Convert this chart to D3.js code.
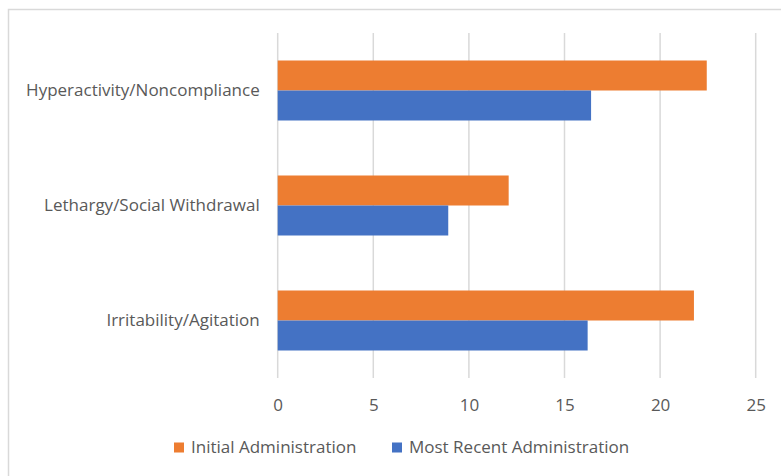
<!DOCTYPE html>
<html>
<head>
<meta charset="utf-8">
<script src="https://cdn.jsdelivr.net/npm/d3@7"></script>
<style>
  html, body { margin: 0; padding: 0; background: #fff; }
  svg { display: block; }
  text { font-family: "Open Sans", sans-serif; fill: #595959; }
</style>
</head>
<body>
<svg id="chart" width="781" height="476"></svg>
<script>
// Scale scores by subscale, first vs. latest administration
const categories = ["Hyperactivity/Noncompliance", "Lethargy/Social Withdrawal", "Irritability/Agitation"];
const seriesNames = ["Initial Administration", "Most Recent Administration"];
const initialValues = [22.44, 12.08, 21.77];
const recentValues = [16.39, 8.92, 16.21];
const tickValues = [0, 5, 10, 15, 20, 25];
const colors = ["#ED7D31", "#4472C4"];
const fontSize = "17px";

const svg = d3.select("#chart");

// outer chart frame (extends past right/bottom edges)
svg.append("rect")
  .attr("x", 8.5).attr("y", 9.5)
  .attr("width", 800).attr("height", 500)
  .attr("fill", "none").attr("stroke", "#D9D9D9").attr("stroke-width", 1.5);

const plot = { left: 277.7, right: 755.7, top: 33, bottom: 378 };

const x = d3.scaleLinear().domain([0, 25]).range([plot.left, plot.right]);
const y = d3.scaleBand().domain(categories).range([plot.top, plot.bottom]).paddingInner(0).paddingOuter(0);
const inner = d3.scaleBand().domain(seriesNames).range([0, 60]);
const groupOffset = (y.bandwidth() - 60) / 2;

// vertical gridlines
svg.append("g")
  .selectAll("line").data(tickValues).join("line")
  .attr("x1", d => x(d)).attr("x2", d => x(d))
  .attr("y1", plot.top).attr("y2", plot.bottom)
  .attr("stroke", "#D9D9D9").attr("stroke-width", 1.5);

// bars
const rows = categories.map((c, i) => ({ cat: c, vals: [initialValues[i], recentValues[i]] }));
const g = svg.append("g");
rows.forEach(r => {
  r.vals.forEach((v, j) => {
    g.append("rect")
      .attr("x", x(0))
      .attr("y", y(r.cat) + groupOffset + inner(seriesNames[j]))
      .attr("width", x(v) - x(0))
      .attr("height", inner.bandwidth())
      .attr("fill", colors[j]);
  });
});

// x axis tick labels
const xAxis = d3.axisBottom(x).tickValues(tickValues).tickSize(0).tickPadding(0);
const xg = svg.append("g").attr("transform", `translate(0,${plot.bottom + 27})`).call(xAxis);
xg.select(".domain").remove();
xg.selectAll("text")
  .attr("dy", "0.35em")
  .style("font-size", fontSize)
  .attr("fill", "#595959");

// y axis category labels
const yAxis = d3.axisLeft(y).tickSize(0).tickPadding(0);
const yg = svg.append("g").attr("transform", `translate(${plot.left - 18},0)`).call(yAxis);
yg.select(".domain").remove();
yg.selectAll("text")
  .style("font-size", fontSize)
  .attr("fill", "#595959");

// legend
const legendItems = [
  { name: seriesNames[0], color: colors[0], x: 174 },
  { name: seriesNames[1], color: colors[1], x: 392 }
];
const lg = svg.append("g");
legendItems.forEach(it => {
  lg.append("rect").attr("x", it.x).attr("y", 442.5).attr("width", 10).attr("height", 10).attr("fill", it.color);
  lg.append("text").attr("x", it.x + 17).attr("y", 447.5).attr("dy", "0.35em")
    .style("font-size", fontSize).attr("fill", "#595959").text(it.name);
});
</script>
</body>
</html>
